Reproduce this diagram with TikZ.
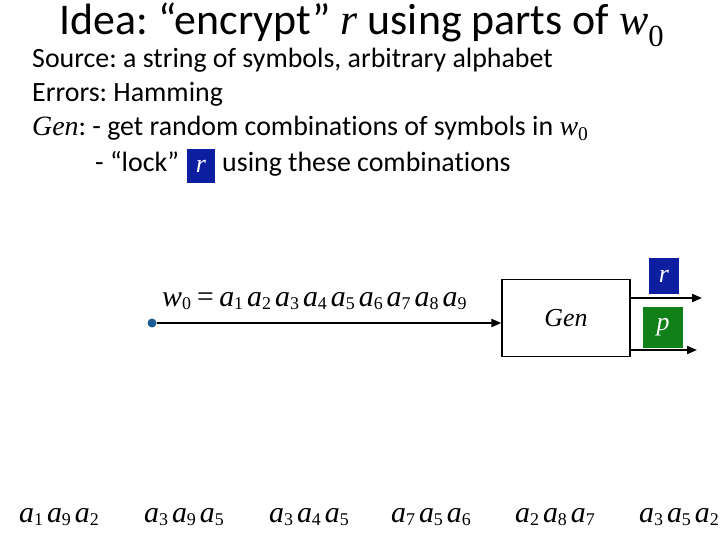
\documentclass[tikz,border=0pt]{standalone}
\usepackage{fontspec}
\setmainfont{Carlito}[Ligatures=NoCommon]
\newfontfamily\tms{Liberation Serif}
\usetikzlibrary{positioning, arrows.meta}
\definecolor{KeyBlue}{RGB}{14,30,160}
\definecolor{KeyGreen}{RGB}{16,128,24}
\definecolor{DotBlue}{RGB}{30,92,150}
\newcommand{\vr}[1]{{\tms\itshape #1}}
\newcommand{\vs}[2]{{\tms\itshape #1}\textsubscript{\tms\upshape #2}}
% symbol with large subscript, for the diagram
\newcommand{\sv}[2]{{\itshape #1}\raisebox{-3bp}{\fontsize{18}{20}\selectfont\upshape #2}}
\newcommand{\symgap}{\hspace{4bp}}
\frenchspacing

\begin{document}
\begin{tikzpicture}[x=1bp, y=-1bp,
          txt/.style={inner sep=0pt, anchor=base west,
                      font=\fontsize{28}{32}\selectfont},
          sym/.style={inner sep=0pt, anchor=base,
                      font=\fontsize{30}{34}\selectfont\tms\itshape},
          keybox/.style={rectangle, inner sep=0pt, text=white,
                         font=\fontsize{26}{30}\selectfont\tms\itshape},
          genbox/.style={rectangle, draw, line width=1.2bp,
                         minimum width=128bp, minimum height=77bp,
                         font=\fontsize{26}{30}\selectfont\tms\itshape},
          arr/.style={-{Triangle[length=10bp, width=8bp]}, line width=2bp}
        ]
        \useasboundingbox (0,0) rectangle (720,540);

        % Title and bullet text
        \node[inner sep=0pt, anchor=base, font=\fontsize{44}{48}\selectfont]
              (title) at (362,35)
              {Idea: “encrypt” \vr{r} using parts of \vs{w}{0}};
        \node[txt] (src)  at (32,68)  {Source: a string of symbols, arbitrary alphabet};
        \node[txt] (err)  at (32,102) {Errors: Hamming};
        \node[txt] (gen1) at (32,136)
              {\vr{Gen}: - get random combinations of symbols in \vs{w}{0}};
        \node[txt] (lock) at (95,172) {- “lock”};
        \node[keybox, fill=KeyBlue, minimum width=28bp, minimum height=34bp]
              (rlock) at (201,166) {r};
        \node[txt] (lock2) at (222,172) {using these combinations};

        % Generator with input string
        \node[circle, fill=DotBlue, inner sep=0pt, minimum size=9bp]
              (w) at (152,323) {};
        \node[genbox] (gen) at (566,318) {Gen};
        \node[sym, anchor=base west] (wlab) at (162,306)
              {\sv{w}{0}\hspace{4bp}=\hspace{4bp}\sv{a}{1}\symgap\sv{a}{2}\symgap\sv{a}{3}\symgap
               \sv{a}{4}\symgap\sv{a}{5}\symgap\sv{a}{6}\symgap\sv{a}{7}\symgap\sv{a}{8}\symgap\sv{a}{9}};
        \draw[arr] (w) -- (w -| gen.west);

        % Outputs
        \coordinate (rout) at (702,298);
        \coordinate (pout) at (697,350);
        \draw[arr] (rout -| gen.east) -- (rout);
        \draw[arr] (pout -| gen.east) -- (pout);
        \node[keybox, fill=KeyBlue, minimum width=30bp, minimum height=36bp]
              (rkey) at (664,276) {r};
        \node[keybox, fill=KeyGreen, minimum width=40bp, minimum height=41bp]
              (pkey) at (663,327) {p};

        % Random combinations of symbols
        \foreach \x/\i/\j/\k [count=\n] in {59/1/9/2, 184/3/9/5, 309/3/4/5,
                                           431/7/5/6, 555/2/8/7, 679/3/5/2}
          \node[sym] (comb\n) at (\x,522)
                {\sv{a}{\i}\symgap\sv{a}{\j}\symgap\sv{a}{\k}};
      \end{tikzpicture}
\end{document}
